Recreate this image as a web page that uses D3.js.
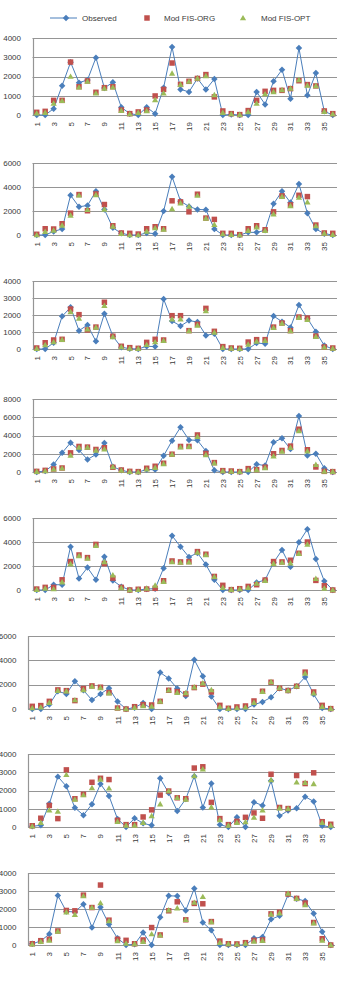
<!DOCTYPE html>
<html>
<head>
<meta charset="utf-8">
<script src="https://cdn.jsdelivr.net/npm/d3@7"></script>
<style>
body{margin:0;background:#fff;}
svg{display:block;font-family:"Liberation Sans",Arial,sans-serif;}
</style>
</head>
<body>
<svg id="chart" width="345" height="993"></svg>
<script>
// categories & labels
var categories = d3.range(1, 37);
var tickLabels = categories.filter(function(d){ return d % 2 == 1; });
var seriesNames = ["Observed", "Mod FIS-ORG", "Mod FIS-OPT"];

// panel 1
var obs1 = [0,0,330,1520,2740,1680,1820,2980,1400,1700,400,70,0,400,70,1420,3530,1330,1200,1900,1320,1870,0,30,0,0,1200,550,1750,2350,850,3480,1020,2180,190,0];
var org1 = [140,190,760,760,2750,1470,1770,1180,1420,1470,260,70,160,260,990,1330,2700,1590,1750,1900,2100,940,210,70,20,230,760,1230,1280,1280,1370,1780,1580,1510,210,70];
var opt1 = [90,120,600,740,2000,1440,1740,1130,1380,1440,230,50,120,210,780,1130,2160,1580,1740,1900,2030,1040,120,50,20,160,600,1090,1200,1300,1380,1820,1540,1510,170,50];
// panel 2
var obs2 = [0,0,300,500,3310,2350,2460,3650,2130,600,140,0,0,170,110,1990,4860,2820,2380,2130,2100,500,0,0,0,220,220,390,2600,3650,2700,4250,1820,500,110,0];
var org2 = [60,520,500,940,1820,3370,2020,3420,2540,770,170,140,80,520,690,520,2850,2760,1930,3400,1410,1300,140,140,30,520,770,440,1930,3260,2510,3310,3200,830,170,140];
var opt2 = [0,280,390,800,1630,3310,2100,3340,2130,720,110,0,0,300,580,470,2180,2650,2380,3290,1380,860,80,30,0,360,660,360,1740,3200,2430,3120,2730,750,140,30];
// panel 3
var obs3 = [0,0,370,1920,2450,1080,1410,450,2080,750,100,20,0,160,140,2940,1650,1350,1670,1590,800,900,0,0,0,0,350,310,1940,1610,1270,2590,1800,1020,200,0];
var org3 = [60,370,530,570,2350,2020,1120,1290,2750,750,160,80,40,390,570,530,1960,1960,1080,1450,2390,1040,140,60,40,410,550,550,1290,1530,1080,1880,1820,760,120,60];
var opt3 = [20,240,410,550,2180,1800,1160,1270,2550,710,120,40,20,250,410,490,1750,1760,1060,1390,2240,980,80,40,20,270,450,490,1250,1510,1060,1840,1730,730,100,40];
// panel 4
var obs4 = [0,110,810,2100,3210,2400,1370,1920,3170,590,180,0,0,260,260,1770,3430,4910,3510,3470,2290,180,0,0,0,0,850,700,3250,3690,2510,6130,1810,2000,410,0];
var org4 = [70,180,330,440,2100,2800,2730,2470,2660,520,220,70,40,410,630,960,1950,2800,2800,4060,2030,1030,150,110,40,370,260,520,2000,2360,2840,4690,2440,550,70,40];
var opt4 = [40,110,300,410,1810,2690,2690,2360,2510,550,180,40,0,300,480,890,1920,2730,2770,3870,1880,960,110,70,40,220,220,440,1730,2250,2660,4500,2290,810,70,40];
// panel 5
var obs5 = [0,0,440,440,3610,960,1870,850,2780,800,280,0,0,80,110,1820,4520,3610,2750,3090,2120,850,0,0,0,0,630,830,2290,3330,1930,3970,5070,2590,740,0];
var org5 = [80,220,220,850,2370,2920,2700,3800,2200,990,220,0,60,80,140,770,2420,2340,2370,3200,2980,1130,390,30,110,300,440,830,2370,2340,2480,3060,4000,800,360,0];
var opt5 = [30,140,80,660,2180,2840,2640,3690,2340,1240,170,0,30,140,390,690,2340,2290,2310,3140,2920,1100,190,30,80,190,550,770,2200,2290,2230,3030,3800,940,140,0];
// panel 6
var obs6 = [0,0,360,1460,1240,2290,1540,740,1240,1710,610,0,110,500,0,3000,2510,1680,1070,4050,2700,1020,0,0,0,0,360,580,960,1710,1520,1870,2620,1210,80,0];
var org6 = [220,280,630,1570,1510,690,1680,1900,1790,1350,80,0,190,360,330,630,1540,1430,1240,1760,2040,1400,300,60,170,250,660,1460,2200,1710,1520,1870,3030,1400,300,30];
var opt6 = [80,140,520,1510,1460,740,1570,1850,1740,1290,60,0,110,250,220,630,1540,1350,1320,1790,2120,1570,170,30,80,140,520,1430,2230,1740,1520,1870,2920,1290,190,30];
// panel 7
var obs7 = [40,90,1270,2760,2230,1050,650,1250,2360,1700,440,0,480,200,90,2670,1860,880,1530,2780,1070,2380,130,0,530,0,1360,1180,2530,610,900,1030,1660,1400,70,0];
var org7 = [70,480,1180,460,3130,1550,1790,2450,2670,2600,370,130,130,550,940,1750,1970,1600,1550,3230,3300,1350,460,130,310,530,770,480,2890,1070,1010,2820,2380,2970,290,150];
var opt7 = [40,240,920,850,2860,1510,1750,2140,2610,2120,290,90,90,240,610,1250,1970,1600,1510,2800,3170,1090,390,90,240,280,530,920,2580,1030,1010,2450,2430,2360,240,90];
// panel 8
var obs8 = [70,220,610,2750,1860,1840,2270,970,2100,1150,370,0,40,690,0,1540,2730,2720,1920,3140,1250,820,0,0,0,0,370,450,1430,1620,2790,2570,2440,1750,730,0];
var org8 = [70,240,320,780,1920,1900,2770,2080,3330,1380,320,260,70,280,970,560,1900,2400,1400,2310,2290,1300,220,70,60,130,260,280,1730,1820,2830,2590,2330,1250,350,0];
var opt8 = [40,190,260,760,1820,1690,2720,2080,2330,1340,220,90,60,190,610,540,1940,2050,1400,2360,2680,1280,130,60,40,90,200,240,1710,1770,2870,2570,2230,1210,260,0];

// y axis maxima / steps
var yMax = [4000, 6000, 4000, 8000, 6000, 6000, 4000, 4000];
var yStep = [1000, 2000, 1000, 2000, 2000, 2000, 1000, 1000];

var observed = [obs1, obs2, obs3, obs4, obs5, obs6, obs7, obs8];
var modOrg = [org1, org2, org3, org4, org5, org6, org7, org8];
var modOpt = [opt1, opt2, opt3, opt4, opt5, opt6, opt7, opt8];

// layout of each plot area (pixels)
var frames = [
  {left:32.5, right:337, top:38,  bottom:115},
  {left:32.5, right:337, top:163, bottom:235},
  {left:32.5, right:337, top:281, bottom:349},
  {left:32.5, right:337, top:399, bottom:472},
  {left:32.5, right:337, top:518, bottom:590},
  {left:28,   right:335, top:636, bottom:709},
  {left:28,   right:335, top:754, bottom:827},
  {left:28,   right:335, top:873, bottom:945}
];

var colObs = "#4a7ebb", colOrg = "#c0504d", colOpt = "#9bbb59";
var gridCol = "#959595", textCol = "#3a3a3a";

var svg = d3.select("#chart");

// excel style diamond = square turned 45deg
var diamond = d3.symbol().type(d3.symbolSquare).size(21);
var square = d3.symbol().type(d3.symbolSquare).size(30);
var triangle = d3.symbol().type(d3.symbolTriangle).size(17);

function drawPanel(i){
  var f = frames[i];
  var g = svg.append("g");

  var x = d3.scaleBand().domain(categories).range([f.left, f.right]);
  var y = d3.scaleLinear().domain([0, yMax[i]]).range([f.bottom, f.top]);
  var cx = function(d, j){ return x(categories[j]) + x.bandwidth()/2; };

  var ticks = d3.range(0, yMax[i] + 1, yStep[i]);

  // gridlines
  g.selectAll(".grid").data(ticks).enter()
    .append("line")
    .attr("x1", f.left).attr("x2", f.right)
    .attr("y1", function(d){ return Math.round(y(d)) + 0.5; })
    .attr("y2", function(d){ return Math.round(y(d)) + 0.5; })
    .attr("stroke", gridCol).attr("stroke-width", 1.2);

  // left axis line
  g.append("line")
    .attr("x1", Math.round(f.left) + 0.5).attr("x2", Math.round(f.left) + 0.5)
    .attr("y1", f.top).attr("y2", f.bottom + 0.5)
    .attr("stroke", gridCol).attr("stroke-width", 1.2);

  // y labels
  g.selectAll(".ylab").data(ticks).enter()
    .append("text")
    .attr("x", f.left - 11.5)
    .attr("y", function(d){ return y(d); })
    .attr("dy", "0.35em")
    .attr("text-anchor", "end")
    .attr("font-size", 8)
    .attr("fill", textCol)
    .text(function(d){ return d; });

  // x labels (rotated)
  g.selectAll(".xlab").data(tickLabels).enter()
    .append("text")
    .attr("transform", function(d){
      return "translate(" + (x(d) + x.bandwidth()/2 + 3) + "," + (f.bottom + 7) + ") rotate(-90)";
    })
    .attr("text-anchor", "end")
    .attr("font-size", 8)
    .attr("fill", textCol)
    .text(function(d){ return d; });

  // observed line
  var line = d3.line()
    .x(function(d, j){ return cx(d, j); })
    .y(function(d){ return y(d); });
  g.append("path")
    .datum(observed[i])
    .attr("d", line)
    .attr("fill", "none")
    .attr("stroke", colObs)
    .attr("stroke-width", 1);

  g.selectAll(".obs").data(observed[i]).enter()
    .append("path")
    .attr("d", diamond)
    .attr("transform", function(d, j){ return "translate(" + cx(d, j) + "," + y(d) + ") rotate(45)"; })
    .attr("fill", colObs);

  g.selectAll(".org").data(modOrg[i]).enter()
    .append("path")
    .attr("d", square)
    .attr("transform", function(d, j){ return "translate(" + cx(d, j) + "," + y(d) + ")"; })
    .attr("fill", colOrg);

  g.selectAll(".opt").data(modOpt[i]).enter()
    .append("path")
    .attr("d", triangle)
    .attr("transform", function(d, j){ return "translate(" + cx(d, j) + "," + (y(d) + 0.5) + ")"; })
    .attr("fill", colOpt);
}

for(var i = 0; i < frames.length; i++) drawPanel(i);

// legend
var lg = svg.append("g").attr("font-size", 8).attr("fill", textCol);
lg.append("line").attr("x1", 50).attr("x2", 77).attr("y1", 18).attr("y2", 18)
  .attr("stroke", colObs).attr("stroke-width", 1);
lg.append("path").attr("d", diamond).attr("transform", "translate(66,18) rotate(45)").attr("fill", colObs);
lg.append("text").attr("x", 82).attr("y", 18).attr("dy", "0.35em").text(seriesNames[0]);
lg.append("path").attr("d", square).attr("transform", "translate(147,18)").attr("fill", colOrg);
lg.append("text").attr("x", 164).attr("y", 18).attr("dy", "0.35em").text(seriesNames[1]);
lg.append("path").attr("d", triangle).attr("transform", "translate(243,18.5)").attr("fill", colOpt);
lg.append("text").attr("x", 261).attr("y", 18).attr("dy", "0.35em").text(seriesNames[2]);
</script>
</body>
</html>
